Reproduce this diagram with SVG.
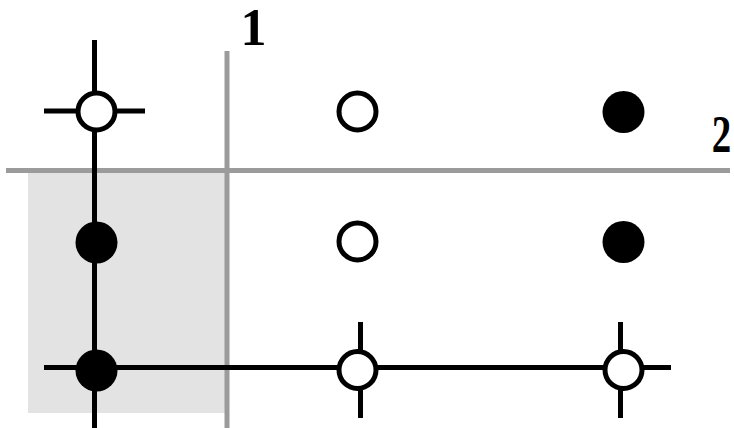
<svg xmlns="http://www.w3.org/2000/svg" width="734" height="428" viewBox="0 0 734 428">
<style>
.grid{stroke:#9b9b9b;stroke-width:5;fill:none}
.wire{stroke:#000;stroke-width:5;fill:none}
.open{fill:#fff;stroke:#000;stroke-width:5}
.filled{fill:#000;stroke:none}
.lbl{font-family:"Liberation Serif",serif;font-size:52px;font-weight:bold;fill:#000;text-anchor:middle}
</style>
<rect x="28" y="171" width="197" height="242" fill="#e3e3e3"/>
<g id="grid">
<line class="grid" x1="6" y1="170.5" x2="730" y2="170.5"/>
<line class="grid" x1="227" y1="51" x2="227" y2="428"/>
</g>
<text class="lbl" x="253.5" y="45">1</text>
<text class="lbl" x="721.5" y="152" transform="translate(721.5 0) scale(0.75 1) translate(-721.5 0)">2</text>
<g id="connectors">
<line class="wire" x1="94.5" y1="40" x2="94.5" y2="428"/>
<line class="wire" x1="44" y1="111" x2="145" y2="111"/>
<line class="wire" x1="44" y1="367.5" x2="671" y2="367.5"/>
<line class="wire" x1="360.5" y1="322" x2="360.5" y2="418"/>
<line class="wire" x1="620.5" y1="322" x2="620.5" y2="418"/>
</g>
<g id="n-r1c1"><circle class="open" cx="96.5" cy="111.5" r="18.5"/></g>
<g id="n-r1c2"><circle class="open" cx="357.5" cy="111.5" r="18.5"/></g>
<g id="n-r1c3"><circle class="filled" cx="623.5" cy="112" r="21"/></g>
<g id="n-r2c1"><circle class="filled" cx="96.5" cy="242.5" r="21"/></g>
<g id="n-r2c2"><circle class="open" cx="357.5" cy="241.5" r="18.5"/></g>
<g id="n-r2c3"><circle class="filled" cx="623.5" cy="242" r="21"/></g>
<g id="n-r3c1"><circle class="filled" cx="96.5" cy="370.5" r="21"/></g>
<g id="n-r3c2"><circle class="open" cx="357.5" cy="370" r="18.5"/></g>
<g id="n-r3c3"><circle class="open" cx="623.5" cy="370" r="18.5"/></g>
</svg>
